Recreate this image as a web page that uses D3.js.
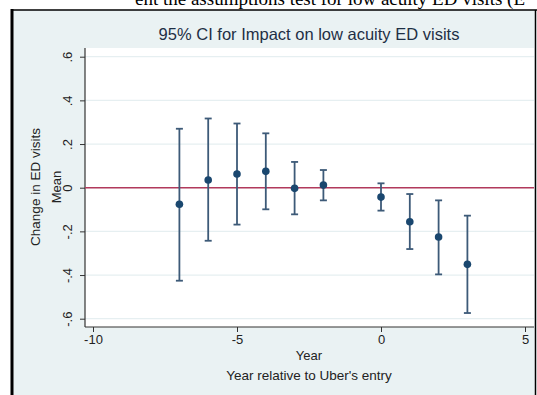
<!DOCTYPE html>
<html>
<head>
<meta charset="utf-8">
<script src="https://cdn.jsdelivr.net/npm/d3@7"></script>
<style>
  body{margin:0;padding:0;background:#fff;}
  svg{display:block;}
  text{font-family:"Liberation Sans",Arial,sans-serif;}
</style>
</head>
<body>
<svg width="537" height="395"></svg>
<script>
// data
var years = [-7, -6, -5, -4, -3, -2, 0, 1, 2, 3];
var means = [-0.076, 0.035, 0.063, 0.075, -0.003, 0.012, -0.043, -0.156, -0.226, -0.351];
var lower = [-0.426, -0.243, -0.169, -0.099, -0.122, -0.058, -0.105, -0.281, -0.397, -0.574];
var upper = [0.270, 0.317, 0.294, 0.249, 0.118, 0.081, 0.020, -0.029, -0.058, -0.128];
var xTicks = [-10, -5, 0, 5];
var yTicks = [-0.6, -0.4, -0.2, 0, 0.2, 0.4, 0.6];

var svg = d3.select("svg");
var plot = {left:85, right:534, top:48, bottom:327};//白色绘图区

// caption of the page above the figure (cut off)
svg.append("text")
    .attr("x", 525).attr("y", 5)
    .attr("text-anchor", "end")
    .style("font-family", "'Liberation Serif','Times New Roman',serif")
    .style("font-size", "19px")
    .attr("fill", "#000")
    .text("ent the assumptions test for low acuity ED visits (E");

// graph background + frame
svg.append("rect")
    .attr("x", 12).attr("y", 10).attr("width", 524).attr("height", 390)
    .attr("fill", "#eaf2f3");
svg.append("line").attr("x1", 12).attr("x2", 12).attr("y1", 9).attr("y2", 395)
    .attr("stroke", "#000").attr("stroke-width", 3);
svg.append("line").attr("x1", 11).attr("x2", 537).attr("y1", 10).attr("y2", 10)
    .attr("stroke", "#000").attr("stroke-width", 1.5);
svg.append("line").attr("x1", 535.5).attr("x2", 535.5).attr("y1", 10).attr("y2", 395)
    .attr("stroke", "#000").attr("stroke-width", 1.5);

svg.append("rect")
    .attr("x", plot.left).attr("y", plot.top)
    .attr("width", plot.right-plot.left).attr("height", plot.bottom-plot.top)
    .attr("fill", "#fff");

// scales
var xScale = d3.scaleLinear().domain([-10, 5]).range([93, 525]);
var yScale = d3.scaleLinear().domain([-0.6, 0.6]).range([318.7, 56.7]);
// stata style labels: .6  -.2  0 (plain hyphen)
var fmt = d => d == 0 ? "0" : d3.format(".1f")(d).replace("0.", ".").replace("\u2212", "-");
var fmtX = d => String(d);

// grid lines
svg.append("g").selectAll("line")
    .data(yTicks)
    .enter().append("line")
    .attr("x1", plot.left).attr("x2", plot.right)
    .attr("y1", d => yScale(d)).attr("y2", d => yScale(d))
    .attr("stroke", "#e6eff1").attr("stroke-width", 1.2);

// x axis
var gx = svg.append("g")
    .attr("transform", "translate(0," + plot.bottom + ")")
    .call(d3.axisBottom(xScale).tickValues(xTicks).tickSize(5).tickPadding(3).tickFormat(fmtX));
gx.select(".domain").remove();
gx.selectAll("line").attr("stroke", "#333");
gx.selectAll("text").attr("fill", "#222").style("font-size", "13px")
    .style("font-family", "'Liberation Sans',Arial,sans-serif");
svg.append("line")
    .attr("x1", plot.left).attr("x2", plot.right)
    .attr("y1", plot.bottom).attr("y2", plot.bottom)
    .attr("stroke", "#333").attr("stroke-width", 1.2);

// y axis, labels rotated like stata
var gy = svg.append("g")
    .attr("transform", "translate(" + plot.left + ",0)")
    .call(d3.axisLeft(yScale).tickValues(yTicks).tickSize(5).tickFormat(fmt));
gy.select(".domain").remove();
gy.selectAll("line").attr("stroke", "#333");
gy.selectAll("text")
    .attr("x", 0).attr("dy", null)
    .attr("transform", "translate(-13,0) rotate(-90)")
    .attr("text-anchor", "middle")
    .attr("y", 0)
    .attr("fill", "#222").style("font-size", "13px")
    .style("font-family", "'Liberation Sans',Arial,sans-serif");
svg.append("line")
    .attr("x1", plot.left).attr("x2", plot.left)
    .attr("y1", plot.top).attr("y2", plot.bottom)
    .attr("stroke", "#333").attr("stroke-width", 1.2);

// reference line at 0
svg.append("line")
    .attr("x1", plot.left).attr("x2", plot.right)
    .attr("y1", yScale(0)).attr("y2", yScale(0))
    .attr("stroke", "#b23a5c").attr("stroke-width", 1.5);

// error bars
var capW = 3.5;
var bars = svg.append("g").selectAll("g")
    .data(years)
    .enter().append("g")
    .attr("stroke", "#3d5a78").attr("stroke-width", 1.8);
bars.append("line")
    .attr("x1", d => xScale(d)).attr("x2", d => xScale(d))
    .attr("y1", (d,i) => yScale(upper[i])).attr("y2", (d,i) => yScale(lower[i]));
bars.append("line")
    .attr("x1", d => xScale(d)-capW).attr("x2", d => xScale(d)+capW)
    .attr("y1", (d,i) => yScale(upper[i])).attr("y2", (d,i) => yScale(upper[i]));
bars.append("line")
    .attr("x1", d => xScale(d)-capW).attr("x2", d => xScale(d)+capW)
    .attr("y1", (d,i) => yScale(lower[i])).attr("y2", (d,i) => yScale(lower[i]));

// mean points
svg.append("g").selectAll("circle")
    .data(years)
    .enter().append("circle")
    .attr("cx", d => xScale(d))
    .attr("cy", (d,i) => yScale(means[i]))
    .attr("r", 3.8)
    .attr("fill", "#1a476f");

// titles
svg.append("text")
    .attr("x", 309).attr("y", 40)
    .attr("text-anchor", "middle")
    .attr("fill", "#1e2f45")
    .style("font-size", "16.5px")
    .text("95% CI for Impact on low acuity ED visits");
svg.append("text")
    .attr("x", 309).attr("y", 360)
    .attr("text-anchor", "middle")
    .attr("fill", "#222").style("font-size", "13px")
    .text("Year");
svg.append("text")
    .attr("x", 309).attr("y", 380)
    .attr("text-anchor", "middle")
    .attr("fill", "#222").style("font-size", "13.5px")
    .text("Year relative to Uber's entry");
svg.append("text")
    .attr("transform", "translate(40,187) rotate(-90)")
    .attr("text-anchor", "middle")
    .attr("fill", "#222").style("font-size", "13.5px")
    .text("Change in ED visits");
svg.append("text")
    .attr("transform", "translate(61,187) rotate(-90)")
    .attr("text-anchor", "middle")
    .attr("fill", "#222").style("font-size", "13px")
    .text("Mean");
</script>
</body>
</html>
